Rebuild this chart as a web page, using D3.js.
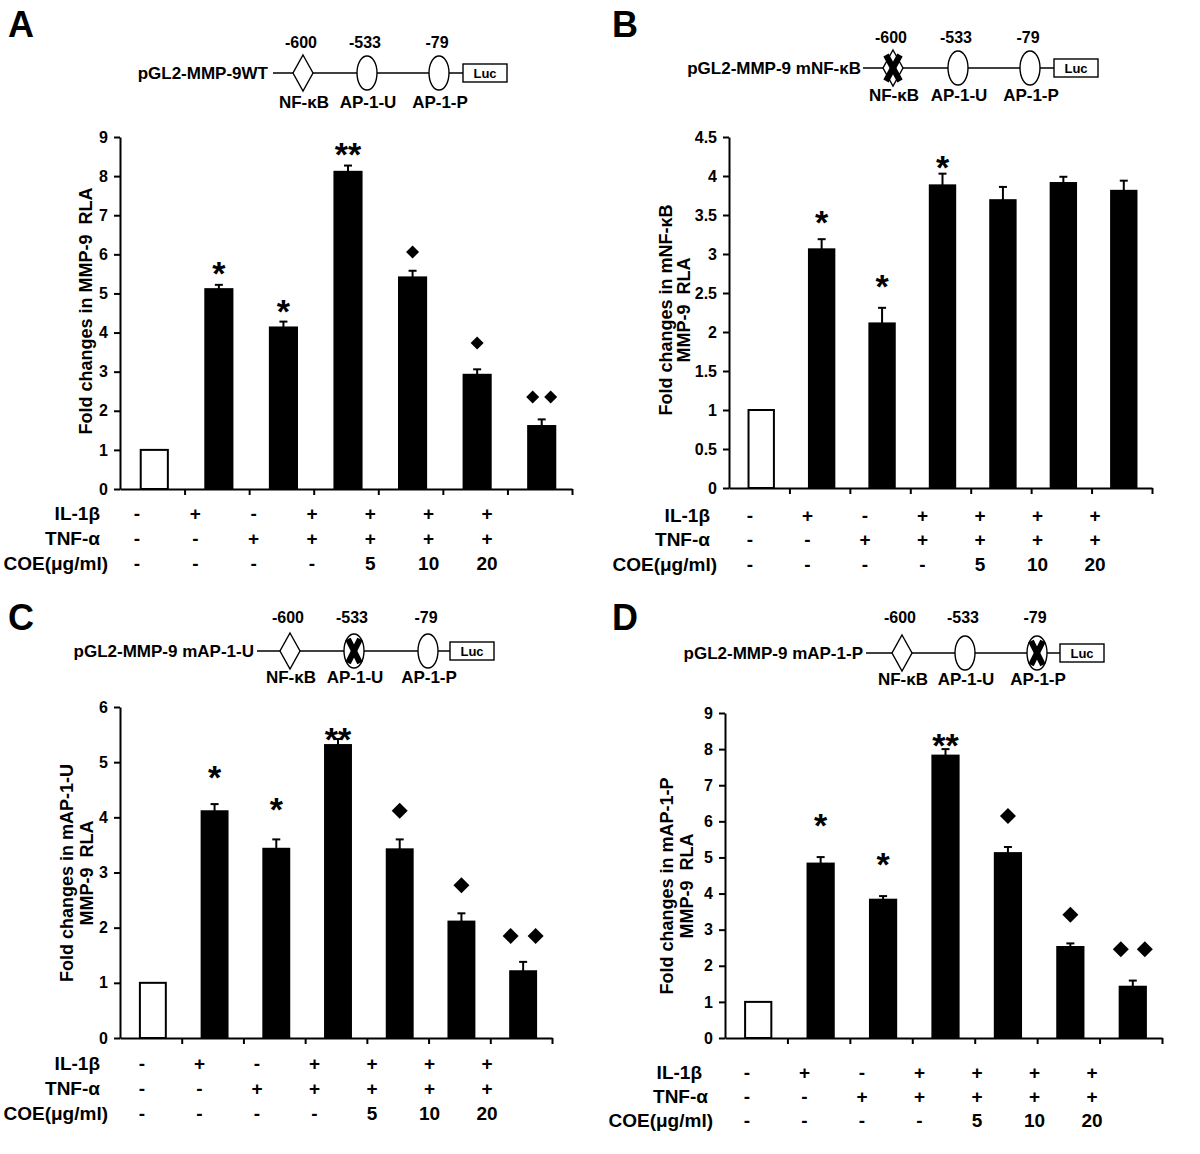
<!DOCTYPE html>
<html>
<head>
<meta charset="utf-8">
<script src="https://cdn.jsdelivr.net/npm/d3@7"></script>
<style>
body { margin: 0; background: #fff; }
svg { display: block; font-family: "Liberation Sans", Arial, sans-serif; font-weight: bold; }
</style>
</head>
<body>
<svg id="fig" width="1200" height="1154"></svg>
<script>
// treatment groups, left to right
const groups = ["control", "IL-1β", "TNF-α", "IL-1β+TNF-α", "COE 5", "COE 10", "COE 20"];
const rowLabels = ["IL-1β", "TNF-α", "COE(μg/ml)"];
const il1bRow = ["-", "+", "-", "+", "+", "+", "+"];
const tnfRow = ["-", "-", "+", "+", "+", "+", "+"];
const coeRow = ["-", "-", "-", "-", "5", "10", "20"];

// promoter constructs
const constructs = ["pGL2-MMP-9WT", "pGL2-MMP-9 mNF-κB", "pGL2-MMP-9 mAP-1-U", "pGL2-MMP-9 mAP-1-P"];
const siteNames = ["NF-κB", "AP-1-U", "AP-1-P"];
const siteNumbers = ["-600", "-533", "-79"];
const mutatedSite = [-1, 0, 1, 2];

// A: wild type
const valuesA = [1, 5.11, 4.13, 8.11, 5.41, 2.92, 1.61];
const errorsA = [0, 0.11, 0.15, 0.16, 0.17, 0.14, 0.17];
const marksA = ["", "*", "*", "**", "◆", "◆", "◆◆"];
const markLevelsA = [0, 5.7, 4.73, 8.75, 6.06, 3.73, 2.35];
const ticksA = [0, 1, 2, 3, 4, 5, 6, 7, 8, 9];

// B: mNF-kB
const valuesB = [1, 3.06, 2.11, 3.88, 3.69, 3.91, 3.81];
const errorsB = [0, 0.13, 0.2, 0.15, 0.17, 0.08, 0.13];
const marksB = ["", "*", "*", "*", "", "", ""];
const markLevelsB = [0, 3.5, 2.68, 4.2, 0, 0, 0];
const ticksB = [0, 0.5, 1, 1.5, 2, 2.5, 3, 3.5, 4, 4.5];

// C: mAP-1-U
const valuesC = [1, 4.11, 3.43, 5.31, 3.42, 2.11, 1.21];
const errorsC = [0, 0.13, 0.17, 0.11, 0.18, 0.15, 0.17];
const marksC = ["", "*", "*", "**", "◆", "◆", "◆◆"];
const markLevelsC = [0, 4.86, 4.28, 5.55, 4.12, 2.77, 1.85];
const ticksC = [0, 1, 2, 3, 4, 5, 6];

// D: mAP-1-P
const valuesD = [1, 4.83, 3.83, 7.82, 5.12, 2.52, 1.42];
const errorsD = [0, 0.18, 0.1, 0.18, 0.17, 0.1, 0.17];
const marksD = ["", "*", "*", "**", "◆", "◆", "◆◆"];
const markLevelsD = [0, 6.09, 5.02, 8.3, 6.15, 3.41, 2.46];
const ticksD = [0, 1, 2, 3, 4, 5, 6, 7, 8, 9];

const panels = [
  {letter: "A", lx: 8, ly: 37, values: valuesA, errors: errorsA, marks: marksA, levels: markLevelsA, ticks: ticksA,
   yLabel: ["Fold changes in MMP-9  RLA"], labelX: [86], labelY: 311,
   x0: 120, x1: 572, yb: 489, yt: 137, dia: 13, pairGap: 9,
   dgm: {nameX: 268, lineY: 73, start: 273, sites: [303, 367, 439], luc: 463, numY: 48, labY: 108},
   table: {right: [100, 100, 108], rows: [520, 545, 570], c0: 137, c1: 487}},
  {letter: "B", lx: 612, ly: 37, values: valuesB, errors: errorsB, marks: marksB, levels: markLevelsB, ticks: ticksB,
   yLabel: ["Fold changes in mNF-κB", "MMP-9  RLA"], labelX: [666, 684], labelY: 310,
   x0: 729, x1: 1152, yb: 488, yt: 137, dia: 14, pairGap: 12,
   dgm: {nameX: 861, lineY: 68, start: 863, sites: [893, 958, 1030], luc: 1054, numY: 43, labY: 101},
   table: {right: [710, 710, 717], rows: [522, 546, 571], c0: 750, c1: 1095}},
  {letter: "C", lx: 8, ly: 630, values: valuesC, errors: errorsC, marks: marksC, levels: markLevelsC, ticks: ticksC,
   yLabel: ["Fold changes in mAP-1-U", "MMP-9  RLA"], labelX: [67, 87], labelY: 873,
   x0: 120, x1: 552, yb: 1038, yt: 707, dia: 16, pairGap: 12.5,
   dgm: {nameX: 254, lineY: 651, start: 257, sites: [290, 354, 428], luc: 450, numY: 623, labY: 683},
   table: {right: [100, 100, 108], rows: [1070, 1095, 1120], c0: 142, c1: 487}},
  {letter: "D", lx: 612, ly: 630, values: valuesD, errors: errorsD, marks: marksD, levels: markLevelsD, ticks: ticksD,
   yLabel: ["Fold changes in mAP-1-P", "MMP-9  RLA"], labelX: [667, 687], labelY: 886,
   x0: 725, x1: 1162, yb: 1038, yt: 713, dia: 16, pairGap: 12,
   dgm: {nameX: 863, lineY: 653, start: 866, sites: [902, 965, 1037], luc: 1060, numY: 623, labY: 685},
   table: {right: [702, 708, 713], rows: [1079, 1103, 1127], c0: 747, c1: 1092}}
];

const svg = d3.select("#fig");

panels.forEach(function (p, pi) {
  const g = svg.append("g");

  // panel letter
  g.append("text").attr("x", p.lx).attr("y", p.ly)
    .style("font-size", "36px").text(p.letter);

  // promoter diagram
  const d = p.dgm;
  g.append("text").attr("x", d.nameX).attr("y", d.lineY + 6)
    .attr("text-anchor", "end").style("font-size", "17px").text(constructs[pi]);
  g.append("line").attr("x1", d.start).attr("x2", d.luc)
    .attr("y1", d.lineY).attr("y2", d.lineY)
    .attr("stroke", "#000").attr("stroke-width", 1.6);
  d.sites.forEach(function (sx, si) {
    if (si === 0) {
      g.append("path")
        .attr("d", `M${sx},${d.lineY - 18}L${sx + 10},${d.lineY}L${sx},${d.lineY + 18}L${sx - 10},${d.lineY}Z`)
        .attr("fill", "#fff").attr("stroke", "#000").attr("stroke-width", 1.4);
    } else {
      g.append("ellipse").attr("cx", sx).attr("cy", d.lineY).attr("rx", 10).attr("ry", 17)
        .attr("fill", "#fff").attr("stroke", "#000").attr("stroke-width", 1.4);
    }
    if (mutatedSite[pi] === si) {
      const hx = si === 0 ? 7 : 6, hy = si === 0 ? 13 : 12;
      [-1, 1].forEach(function (s) {
        g.append("line")
          .attr("x1", sx - s * hx).attr("y1", d.lineY - hy)
          .attr("x2", sx + s * hx).attr("y2", d.lineY + hy)
          .attr("stroke", "#000").attr("stroke-width", 6);
      });
    }
    g.append("text").attr("x", sx - 2).attr("y", d.numY)
      .attr("text-anchor", "middle").style("font-size", "16px").text(siteNumbers[si]);
    g.append("text").attr("x", sx + 1).attr("y", d.labY)
      .attr("text-anchor", "middle").style("font-size", "17px").text(siteNames[si]);
  });
  g.append("rect").attr("x", d.luc).attr("y", d.lineY - 9).attr("width", 44).attr("height", 18)
    .attr("fill", "#fff").attr("stroke", "#000").attr("stroke-width", 1.4);
  g.append("text").attr("x", d.luc + 22).attr("y", d.lineY + 5)
    .attr("text-anchor", "middle").style("font-size", "13px").text("Luc");

  // scales
  const yMax = p.ticks[p.ticks.length - 1];
  const y = d3.scaleLinear().domain([0, yMax]).range([p.yb, p.yt]);
  const x = d3.scaleBand().domain(groups).range([p.x0, p.x1]).padding(0);
  const xEdge = d3.scaleLinear().domain([0, groups.length]).range([p.x0, p.x1]);
  const bw = x.bandwidth() * 0.42;
  const cx = k => x(k) + x.bandwidth() / 2 + 2;

  // bars
  g.selectAll(".bar").data(groups).enter().append("rect")
    .attr("x", k => cx(k) - bw / 2)
    .attr("y", (k, i) => y(p.values[i]))
    .attr("width", bw)
    .attr("height", (k, i) => p.yb - y(p.values[i]))
    .attr("fill", (k, i) => i === 0 ? "#fff" : "#000")
    .attr("stroke", "#000").attr("stroke-width", 2);

  // error bars (upper only)
  groups.forEach(function (k, i) {
    if (!p.errors[i]) return;
    const top = y(p.values[i] + p.errors[i]);
    g.append("line").attr("x1", cx(k)).attr("x2", cx(k))
      .attr("y1", y(p.values[i])).attr("y2", top)
      .attr("stroke", "#000").attr("stroke-width", 2);
    g.append("line").attr("x1", cx(k) - 4).attr("x2", cx(k) + 4)
      .attr("y1", top).attr("y2", top)
      .attr("stroke", "#000").attr("stroke-width", 2);
  });

  // significance marks
  groups.forEach(function (k, i) {
    const m = p.marks[i];
    if (!m) return;
    const my = y(p.levels[i]);
    if (m[0] === "*") {
      g.append("text").attr("x", cx(k)).attr("y", my + 19)
        .attr("text-anchor", "middle").style("font-size", "34px").text(m);
    } else {
      const n = m.length;
      const sym = d3.symbol().type(d3.symbolSquare).size(p.dia * p.dia / 2);
      for (let j = 0; j < n; j++) {
        const off = n === 1 ? 0 : (j === 0 ? -p.pairGap : p.pairGap);
        g.append("path").attr("d", sym())
          .attr("transform", `translate(${cx(k) + off},${my}) rotate(45)`)
          .attr("fill", "#000");
      }
    }
  });

  // axes
  const yAxis = g.append("g").attr("transform", `translate(${p.x0},0)`)
    .call(d3.axisLeft(y).tickValues(p.ticks).tickSize(6).tickSizeOuter(0).tickPadding(6)
      .tickFormat(v => String(v)));
  const xAxis = g.append("g").attr("transform", `translate(0,${p.yb})`)
    .call(d3.axisBottom(xEdge).tickValues(d3.range(1, groups.length + 1)).tickSize(6).tickSizeOuter(0)
      .tickFormat(""));
  [yAxis, xAxis].forEach(function (a) {
    a.selectAll("path, line").attr("stroke", "#000").attr("stroke-width", 2);
    a.selectAll("text").attr("fill", "#000").style("font-size", "16px")
      .style("font-family", "'Liberation Sans', Arial, sans-serif").style("font-weight", "bold");
  });

  // y label
  p.yLabel.forEach(function (t, li) {
    g.append("text")
      .attr("transform", `translate(${p.labelX[li]},${p.labelY}) rotate(-90)`)
      .attr("text-anchor", "middle").attr("dominant-baseline", "central")
      .style("font-size", "18px").style("white-space", "pre").text(t);
  });

  // treatment table
  const col = d3.scalePoint().domain(groups).range([p.table.c0, p.table.c1]);
  [il1bRow, tnfRow, coeRow].forEach(function (row, ri) {
    g.append("text").attr("x", p.table.right[ri]).attr("y", p.table.rows[ri])
      .attr("text-anchor", "end").style("font-size", "19px").text(rowLabels[ri]);
    g.selectAll(null).data(row).enter().append("text")
      .attr("x", (v, i) => col(groups[i]))
      .attr("y", p.table.rows[ri])
      .attr("text-anchor", "middle").style("font-size", "19px")
      .text(v => v);
  });
});
</script>
</body>
</html>
